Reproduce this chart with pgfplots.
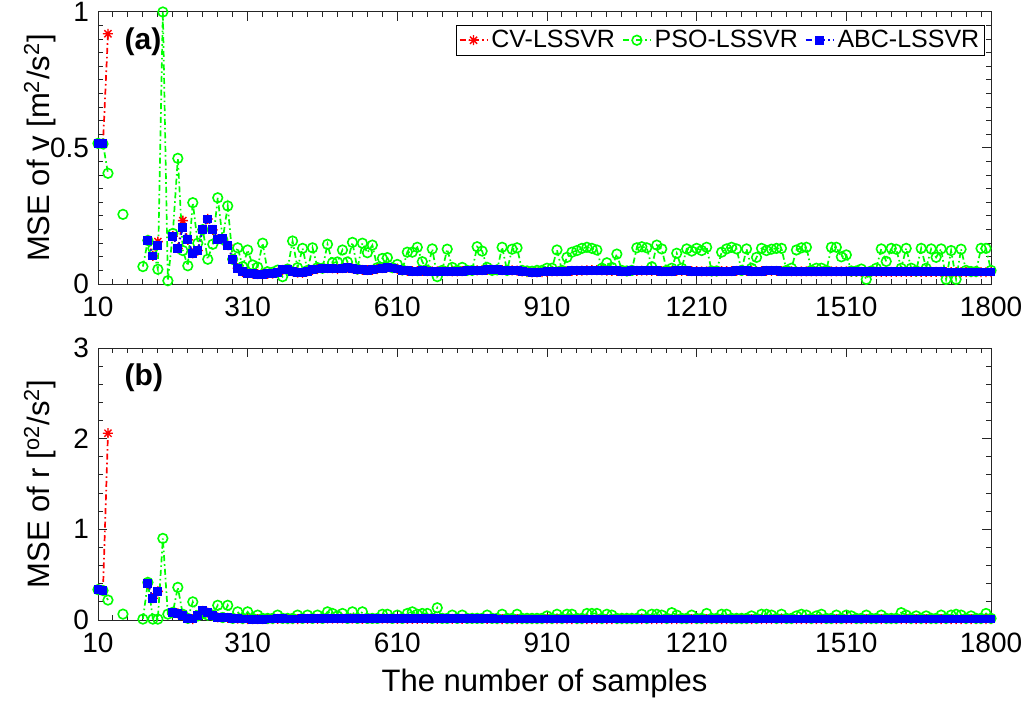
\documentclass[border=0pt]{standalone}
\usepackage{pgfplots}
\usepackage{pgfplotstable}
\pgfplotsset{compat=1.18}
\usepackage{fontspec}
\setmainfont{Liberation Sans}

\pgfdeclareplotmark{ast8}{%
  \pgfpathmoveto{\pgfqpoint{-\pgfplotmarksize}{0pt}}\pgfpathlineto{\pgfqpoint{\pgfplotmarksize}{0pt}}%
  \pgfpathmoveto{\pgfqpoint{0pt}{-\pgfplotmarksize}}\pgfpathlineto{\pgfqpoint{0pt}{\pgfplotmarksize}}%
  \pgfpathmoveto{\pgfqpoint{-0.707\pgfplotmarksize}{-0.707\pgfplotmarksize}}\pgfpathlineto{\pgfqpoint{0.707\pgfplotmarksize}{0.707\pgfplotmarksize}}%
  \pgfpathmoveto{\pgfqpoint{-0.707\pgfplotmarksize}{0.707\pgfplotmarksize}}\pgfpathlineto{\pgfqpoint{0.707\pgfplotmarksize}{-0.707\pgfplotmarksize}}%
  \pgfusepathqstroke}

\pgfplotstableread{
x cv pso abc
10 0.517 0.517 0.517
20 0.515 0.515 0.515
30 0.920 0.407 nan
40 nan nan nan
50 nan nan nan
60 nan 0.256 nan
70 nan nan nan
80 nan nan nan
90 nan nan nan
100 nan 0.064 nan
110 0.162 0.160 0.159
120 0.103 0.131 0.103
130 0.156 0.054 0.143
140 nan 1.000 nan
150 nan 0.012 nan
160 0.176 0.186 0.176
170 0.131 0.462 0.131
180 0.233 0.123 0.207
190 0.162 0.067 0.162
200 0.113 0.299 0.113
210 0.123 0.150 0.123
220 0.199 0.200 0.199
230 0.239 0.091 0.239
240 0.199 0.146 0.199
250 0.164 0.317 0.164
260 0.167 0.164 0.167
270 0.143 0.287 0.143
280 0.091 0.091 0.091
290 0.058 0.133 0.058
300 0.045 0.064 0.045
310 0.040 0.125 0.040
320 0.038 0.070 0.038
330 0.036 0.062 0.036
340 0.036 0.150 0.036
350 0.037 0.045 0.037
360 0.038 0.043 0.038
370 0.042 0.051 0.042
380 0.052 0.027 0.052
390 0.054 0.055 0.054
400 0.046 0.158 0.046
410 0.042 0.060 0.042
420 0.041 0.131 0.041
430 0.046 0.050 0.046
440 0.052 0.133 0.052
450 0.055 0.060 0.055
460 0.057 0.058 0.057
470 0.058 0.146 0.058
480 0.057 0.078 0.057
490 0.055 0.081 0.055
500 0.058 0.125 0.058
510 0.060 0.081 0.060
520 0.057 0.153 0.057
530 0.053 0.055 0.053
540 0.052 0.150 0.052
550 0.051 0.115 0.051
560 0.052 0.143 0.052
570 0.055 0.060 0.055
580 0.058 0.094 0.058
590 0.061 0.097 0.061
600 0.059 0.060 0.059
610 0.055 0.072 0.055
620 0.050 0.052 0.050
630 0.048 0.117 0.048
640 0.047 0.117 0.047
650 0.047 0.135 0.047
660 0.048 0.082 0.048
670 0.047 0.050 0.047
680 0.046 0.129 0.046
690 0.046 0.027 0.046
700 0.047 0.050 0.047
710 0.047 0.128 0.047
720 0.046 0.061 0.046
730 0.046 0.050 0.046
740 0.047 0.061 0.047
750 0.048 0.050 0.048
760 0.049 0.050 0.049
770 0.050 0.137 0.050
780 0.051 0.121 0.051
790 0.052 0.061 0.052
800 0.052 0.050 0.052
810 0.052 0.052 0.052
820 0.051 0.135 0.051
830 0.051 0.050 0.051
840 0.050 0.128 0.050
850 0.049 0.133 0.049
860 0.046 0.050 0.046
870 0.044 0.048 0.044
880 0.043 0.047 0.043
890 0.043 0.050 0.043
900 0.044 0.050 0.044
910 0.045 0.058 0.045
920 0.046 0.058 0.046
930 0.046 0.125 0.046
940 0.047 0.050 0.047
950 0.047 0.098 0.047
960 0.048 0.117 0.048
970 0.048 0.123 0.048
980 0.049 0.131 0.049
990 0.050 0.135 0.050
1000 0.051 0.131 0.051
1010 0.051 0.125 0.051
1020 0.050 0.058 0.050
1030 0.049 0.078 0.049
1040 0.048 0.061 0.048
1050 0.048 0.110 0.048
1060 0.047 0.050 0.047
1070 0.047 0.048 0.047
1080 0.048 0.050 0.048
1090 0.048 0.133 0.048
1100 0.049 0.137 0.049
1110 0.049 0.133 0.049
1120 0.048 0.063 0.048
1130 0.048 0.143 0.048
1140 0.047 0.129 0.047
1150 0.047 0.050 0.047
1160 0.047 0.058 0.047
1170 0.048 0.113 0.048
1180 0.048 0.058 0.048
1190 0.048 0.129 0.048
1200 0.047 0.121 0.047
1210 0.047 0.131 0.047
1220 0.046 0.123 0.046
1230 0.046 0.135 0.046
1240 0.046 0.048 0.046
1250 0.046 0.048 0.046
1260 0.047 0.117 0.047
1270 0.047 0.129 0.047
1280 0.047 0.135 0.047
1290 0.048 0.129 0.048
1300 0.048 0.050 0.048
1310 0.048 0.129 0.048
1320 0.047 0.058 0.047
1330 0.047 0.098 0.047
1340 0.047 0.131 0.047
1350 0.048 0.123 0.048
1360 0.048 0.128 0.048
1370 0.048 0.131 0.048
1380 0.047 0.131 0.047
1390 0.047 0.050 0.047
1400 0.046 0.058 0.046
1410 0.046 0.125 0.046
1420 0.046 0.133 0.046
1430 0.046 0.135 0.046
1440 0.046 0.050 0.046
1450 0.046 0.058 0.046
1460 0.046 0.058 0.046
1470 0.046 0.050 0.046
1480 0.046 0.135 0.046
1490 0.046 0.135 0.046
1500 0.046 0.100 0.046
1510 0.046 0.107 0.046
1520 0.045 0.048 0.045
1530 0.045 0.048 0.045
1540 0.045 0.055 0.045
1550 0.045 0.017 0.045
1560 0.045 0.048 0.045
1570 0.045 0.058 0.045
1580 0.045 0.129 0.045
1590 0.045 0.083 0.045
1600 0.045 0.131 0.045
1610 0.045 0.128 0.045
1620 0.045 0.058 0.045
1630 0.045 0.131 0.045
1640 0.045 0.058 0.045
1650 0.045 0.048 0.045
1660 0.045 0.131 0.045
1670 0.045 0.058 0.045
1680 0.045 0.129 0.045
1690 0.045 0.098 0.045
1700 0.045 0.129 0.045
1710 0.044 0.017 0.044
1720 0.044 0.123 0.044
1730 0.044 0.017 0.044
1740 0.044 0.128 0.044
1750 0.044 0.050 0.044
1760 0.044 0.046 0.044
1770 0.044 0.046 0.044
1780 0.044 0.131 0.044
1790 0.044 0.131 0.044
1800 0.044 0.050 0.044
}\datav

\pgfplotstableread{
x cv pso abc
10 0.335 0.335 0.335
20 0.325 0.325 0.325
30 2.06 0.22 nan
40 nan nan nan
50 nan nan nan
60 nan 0.065 nan
70 nan nan nan
80 nan nan nan
90 nan nan nan
100 nan 0.010 nan
110 0.40 0.415 0.40
120 0.24 0.010 0.24
130 0.315 0.010 0.312
140 nan 0.90 nan
150 nan 0.065 nan
160 0.085 0.085 0.085
170 0.072 0.36 0.072
180 0.054 0.063 0.054
190 0.018 0.018 0.018
200 0.011 0.20 0.011
210 0.045 0.045 0.045
220 0.100 0.072 0.103
230 0.081 0.054 0.085
240 0.048 0.054 0.048
250 0.030 0.162 0.030
260 0.027 0.027 0.027
270 0.023 0.162 0.023
280 0.018 0.018 0.018
290 0.014 0.090 0.014
300 0.011 0.018 0.011
310 0.011 0.090 0.011
320 0.010 0.018 0.010
330 0.010 0.054 0.010
340 0.010 0.018 0.010
350 0.011 0.018 0.011
360 0.011 0.018 0.011
370 0.012 0.054 0.012
380 0.012 0.018 0.012
390 0.011 0.018 0.011
400 0.011 0.018 0.011
410 0.011 0.054 0.011
420 0.012 0.018 0.012
430 0.012 0.054 0.012
440 0.013 0.018 0.013
450 0.013 0.054 0.013
460 0.013 0.018 0.013
470 0.014 0.090 0.014
480 0.014 0.072 0.014
490 0.014 0.045 0.014
500 0.014 0.072 0.014
510 0.014 0.018 0.014
520 0.014 0.090 0.014
530 0.013 0.018 0.013
540 0.013 0.090 0.013
550 0.013 0.018 0.013
560 0.013 0.018 0.013
570 0.013 0.018 0.013
580 0.014 0.063 0.014
590 0.014 0.063 0.014
600 0.014 0.018 0.014
610 0.013 0.054 0.013
620 0.013 0.018 0.013
630 0.013 0.072 0.013
640 0.012 0.090 0.012
650 0.012 0.063 0.012
660 0.012 0.072 0.012
670 0.012 0.072 0.012
680 0.012 0.018 0.012
690 0.012 0.135 0.012
700 0.012 0.018 0.012
710 0.012 0.018 0.012
720 0.012 0.054 0.012
730 0.012 0.018 0.012
740 0.012 0.054 0.012
750 0.012 0.018 0.012
760 0.012 0.018 0.012
770 0.012 0.018 0.012
780 0.012 0.018 0.012
790 0.012 0.054 0.012
800 0.012 0.018 0.012
810 0.011 0.018 0.011
820 0.011 0.063 0.011
830 0.011 0.018 0.011
840 0.011 0.018 0.011
850 0.011 0.063 0.011
860 0.011 0.018 0.011
870 0.011 0.018 0.011
880 0.011 0.018 0.011
890 0.011 0.018 0.011
900 0.011 0.018 0.011
910 0.011 0.045 0.011
920 0.011 0.018 0.011
930 0.011 0.063 0.011
940 0.011 0.018 0.011
950 0.011 0.063 0.011
960 0.011 0.063 0.011
970 0.011 0.018 0.011
980 0.011 0.018 0.011
990 0.011 0.072 0.011
1000 0.011 0.072 0.011
1010 0.011 0.072 0.011
1020 0.011 0.018 0.011
1030 0.011 0.063 0.011
1040 0.011 0.054 0.011
1050 0.011 0.018 0.011
1060 0.011 0.018 0.011
1070 0.011 0.018 0.011
1080 0.011 0.018 0.011
1090 0.011 0.018 0.011
1100 0.011 0.063 0.011
1110 0.011 0.018 0.011
1120 0.011 0.063 0.011
1130 0.011 0.063 0.011
1140 0.011 0.054 0.011
1150 0.011 0.018 0.011
1160 0.011 0.081 0.011
1170 0.011 0.054 0.011
1180 0.011 0.018 0.011
1190 0.011 0.018 0.011
1200 0.011 0.054 0.011
1210 0.011 0.018 0.011
1220 0.011 0.018 0.011
1230 0.011 0.072 0.011
1240 0.011 0.018 0.011
1250 0.011 0.018 0.011
1260 0.011 0.063 0.011
1270 0.011 0.063 0.011
1280 0.011 0.018 0.011
1290 0.011 0.018 0.011
1300 0.011 0.018 0.011
1310 0.011 0.018 0.011
1320 0.011 0.045 0.011
1330 0.011 0.018 0.011
1340 0.011 0.063 0.011
1350 0.011 0.063 0.011
1360 0.011 0.054 0.011
1370 0.011 0.018 0.011
1380 0.011 0.063 0.011
1390 0.011 0.018 0.011
1400 0.011 0.018 0.011
1410 0.011 0.045 0.011
1420 0.011 0.063 0.011
1430 0.011 0.054 0.011
1440 0.011 0.018 0.011
1450 0.011 0.045 0.011
1460 0.011 0.063 0.011
1470 0.011 0.018 0.011
1480 0.011 0.018 0.011
1490 0.011 0.054 0.011
1500 0.011 0.018 0.011
1510 0.011 0.054 0.011
1520 0.011 0.045 0.011
1530 0.011 0.018 0.011
1540 0.011 0.018 0.011
1550 0.011 0.054 0.011
1560 0.011 0.018 0.011
1570 0.011 0.018 0.011
1580 0.011 0.054 0.011
1590 0.011 0.018 0.011
1600 0.011 0.018 0.011
1610 0.011 0.018 0.011
1620 0.011 0.081 0.011
1630 0.011 0.054 0.011
1640 0.011 0.018 0.011
1650 0.011 0.045 0.011
1660 0.011 0.018 0.011
1670 0.011 0.045 0.011
1680 0.011 0.018 0.011
1690 0.011 0.018 0.011
1700 0.011 0.054 0.011
1710 0.011 0.018 0.011
1720 0.011 0.054 0.011
1730 0.011 0.063 0.011
1740 0.011 0.054 0.011
1750 0.011 0.018 0.011
1760 0.011 0.045 0.011
1770 0.011 0.018 0.011
1780 0.011 0.018 0.011
1790 0.011 0.072 0.011
1800 0.011 0.018 0.011
}\datar

\definecolor{cvred}{rgb}{1,0,0}
\definecolor{psogreen}{rgb}{0,1,0}
\definecolor{abcblue}{rgb}{0,0,1}

\pgfplotsset{
  mystyle/.style={
    scale only axis,
    width=446.5pt, height=136pt,
    xmin=10, xmax=1800,
    xtick={10,310,610,910,1210,1510,1800},
    minor xtick={40,70,100,130,160,190,220,250,280,340,370,400,430,460,490,520,550,580,640,670,700,730,760,790,820,850,880,940,970,1000,1030,1060,1090,1120,1150,1180,1240,1270,1300,1330,1360,1390,1420,1450,1480,1540,1570,1600,1630,1660,1690,1720,1750,1780},
    tick pos=both,
    tick align=inside,
    major tick length=4.5pt,
    minor tick length=2.5pt,
    axis line style={black!85, line width=0.5pt},
    every tick/.style={black!85, line width=0.5pt},
    tick label style={font=\fontsize{14}{16}\selectfont, black},
    xticklabel style={yshift=-3pt},
    yticklabel style={xshift=-1pt},
    label style={font=\fontsize{15.5}{18}\selectfont},
    /pgf/number format/assume math mode=true,
    /pgf/number format/1000 sep={},
    scaled ticks=false,
    unbounded coords=jump,
    clip=false,
    legend image code/.code={\draw[mark repeat=2,mark phase=2] plot coordinates {(0pt,0pt) (7pt,0pt) (14pt,0pt)};},
  },
  cvstyle/.style={cvred, line width=0.85pt, dash pattern=on 3pt off 1.5pt on 0.8pt off 1.5pt, mark=ast8, mark size=2.5pt, mark options={solid, line width=0.7pt}},
  psostyle/.style={psogreen, line width=0.85pt, dash pattern=on 3pt off 1.5pt on 0.8pt off 1.5pt, mark=o, mark size=2.4pt, mark options={solid, line width=0.8pt}},
  abcstyle/.style={abcblue, line width=0.85pt, dash pattern=on 3pt off 1.5pt on 0.8pt off 1.5pt, mark=square*, mark size=1.8pt, mark options={solid, fill=abcblue}},
}

\begin{document}
\begin{tikzpicture}
\useasboundingbox (0,0) rectangle (513pt,351pt);

\begin{axis}[mystyle,
  at={(49pt,209pt)}, anchor=south west,
  ymin=0, ymax=1,
  ytick={0,0.5,1}, yticklabels={0,0.5,1},
  minor ytick={0.05,0.1,0.15,0.2,0.25,0.3,0.35,0.4,0.45,0.55,0.6,0.65,0.7,0.75,0.8,0.85,0.9,0.95},
  ylabel={MSE of v [m\textsuperscript{2}/s\textsuperscript{2}]},
  y label style={at={(axis description cs:-0.065,0.5)}, anchor=center},
  legend columns=3,
  legend style={at={(axis description cs:0.993,0.954)}, anchor=north east, draw=black, line width=0.5pt, font=\fontsize{12.5}{14}\selectfont, inner sep=1pt, nodes={inner sep=1.5pt}, /tikz/every even column/.append style={column sep=2pt}},
]
\addplot[cvstyle] table[x=x, y=cv] {\datav};
\addlegendentry{CV-LSSVR}
\addplot[psostyle] table[x=x, y=pso] {\datav};
\addlegendentry{PSO-LSSVR}
\addplot[abcstyle] table[x=x, y=abc] {\datav};
\addlegendentry{ABC-LSSVR}
\node[anchor=west, font=\bfseries\fontsize{15}{18}\selectfont] at (axis description cs:0.022,0.89) {(a)};
\end{axis}

\begin{axis}[mystyle,
  at={(49pt,41pt)}, anchor=south west,
  ymin=0, ymax=3,
  ytick={0,1,2,3},
  minor ytick={0.2,0.4,0.6,0.8,1.2,1.4,1.6,1.8,2.2,2.4,2.6,2.8},
  ylabel={MSE of r [\textsuperscript{o2}/s\textsuperscript{2}]},
  y label style={at={(axis description cs:-0.065,0.5)}, anchor=center},
  xlabel={The number of samples},
  x label style={at={(axis description cs:0.5,-0.232)}, anchor=center},
]
\addplot[cvstyle] table[x=x, y=cv] {\datar};
\addplot[psostyle] table[x=x, y=pso] {\datar};
\addplot[abcstyle] table[x=x, y=abc] {\datar};
\node[anchor=west, font=\bfseries\fontsize{15}{18}\selectfont] at (axis description cs:0.022,0.89) {(b)};
\end{axis}
\end{tikzpicture}
\end{document}
